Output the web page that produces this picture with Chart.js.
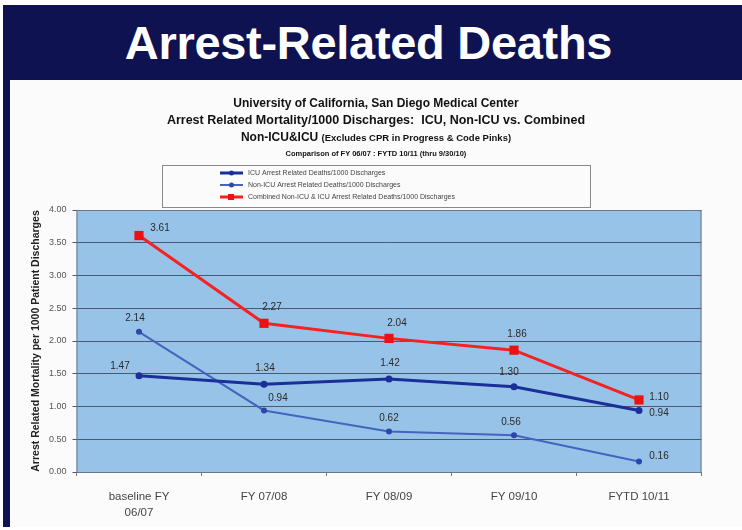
<!DOCTYPE html>
<html>
<head>
<meta charset="utf-8">
<script src="https://cdn.jsdelivr.net/npm/chart.js@4.4.1/dist/chart.umd.min.js"></script>
<style>
  html, body { margin: 0; padding: 0; background: #fff; }
  body { width: 742px; height: 530px; position: relative; overflow: hidden; font-family: "Liberation Sans", Arial, sans-serif; }
  #banner { position: absolute; left: 3px; top: 5px; width: 739px; height: 75px; background: #0f1250; }
  #banner h1 { margin: 0; color: #fff; font-size: 47px; font-weight: bold; text-align: center; line-height: 75px; letter-spacing: -0.3px; padding-right: 8px; }
  #strip { position: absolute; left: 3px; top: 80px; width: 7px; height: 447px; background: #0f1250; }
  #panel { position: absolute; left: 10px; top: 80px; width: 732px; height: 447px; background: #fbfbfb; }
  .t { position: absolute; left: 10px; width: 732px; text-align: center; font-weight: bold; color: #111; white-space: nowrap; }
  #chartBox { position: absolute; left: 10px; top: 80px; width: 732px; height: 447px; }
</style>
</head>
<body>
<div id="banner"><h1>Arrest-Related Deaths</h1></div>
<div id="strip"></div>
<div id="panel"></div>
<div id="chartBox"><canvas id="c"></canvas></div>
<div class="t" style="top:96px;font-size:12px;">University of California, San Diego Medical Center</div>
<div class="t" style="top:113px;font-size:12.5px;">Arrest Related Mortality/1000 Discharges:&nbsp; ICU, Non-ICU vs. Combined</div>
<div class="t" style="top:130px;font-size:12px;">Non-ICU&amp;ICU <span style="font-size:9.5px;">(Excludes CPR in Progress &amp; Code Pinks)</span></div>
<div class="t" style="top:149px;font-size:7.5px;">Comparison of FY 06/07 : FYTD 10/11 (thru 9/30/10)</div>
<script>
// данные
const categories = [['baseline FY', '06/07'], 'FY 07/08', 'FY 08/09', 'FY 09/10', 'FYTD 10/11'];
const icu = [1.47, 1.34, 1.42, 1.30, 0.94];
const nonIcu = [2.14, 0.94, 0.62, 0.56, 0.16];
const combined = [3.61, 2.27, 2.04, 1.86, 1.10];
const seriesNames = [
  'ICU Arrest Related Deaths/1000 Discharges',
  'Non-ICU Arrest Related Deaths/1000 Discharges',
  'Combined Non-ICU & ICU Arrest Related Deaths/1000 Discharges'
];

// смещения подписей значений относительно точек
const labelShift = [
  [[-19,-9],[1,-16],[1,-16],[-5,-15],[20,3]],
  [[-4,-14],[14,-12],[0,-13],[-3,-13],[20,-5]],
  [[21,-7],[8,-16],[8,-15],[3,-16],[20,-3]]
];

const plotBg = {
  id: 'plotBg',
  beforeDraw(chart) {
    const {ctx, chartArea: a} = chart;
    ctx.save();
    ctx.fillStyle = '#97c3e8';
    ctx.fillRect(a.left, a.top, a.right - a.left, a.bottom - a.top);
    ctx.restore();
  },
  afterDraw(chart) {
    const {ctx, chartArea: a} = chart;
    ctx.save();
    ctx.strokeStyle = '#6b7686';
    ctx.lineWidth = 1;
    ctx.strokeRect(a.left + 0.5, a.top + 0.5, a.right - a.left - 1, a.bottom - a.top);
    ctx.restore();
  }
};

const valueLabels = {
  id: 'valueLabels',
  afterDatasetsDraw(chart) {
    const ctx = chart.ctx;
    ctx.save();
    ctx.font = '10px "Liberation Sans", Arial, sans-serif';
    ctx.fillStyle = '#2a2a2a';
    ctx.textAlign = 'center';
    ctx.textBaseline = 'middle';
    chart.data.datasets.forEach((ds, di) => {
      chart.getDatasetMeta(di).data.forEach((pt, i) => {
        const s = labelShift[di][i];
        ctx.fillText(ds.data[i].toFixed(2), pt.x + s[0], pt.y + s[1]);
      });
    });
    ctx.restore();
  }
};

const boxLegend = {
  id: 'boxLegend',
  afterDraw(chart) {
    const ctx = chart.ctx;
    ctx.save();
    ctx.strokeStyle = '#8a8a8a';
    ctx.lineWidth = 1;
    ctx.strokeRect(152.5, 85.5, 428, 42);
    ctx.font = '7px "Liberation Sans", Arial, sans-serif';
    ctx.textBaseline = 'middle';
    ctx.textAlign = 'left';
    chart.data.datasets.forEach((ds, i) => {
      const y = 93 + i * 12;
      ctx.strokeStyle = ds.borderColor;
      ctx.lineWidth = ds.borderWidth;
      ctx.beginPath();
      ctx.moveTo(210, y);
      ctx.lineTo(233, y);
      ctx.stroke();
      ctx.fillStyle = ds.pointBackgroundColor;
      if (ds.pointStyle === 'rect') ctx.fillRect(218, y - 3, 6, 6);
      else { ctx.beginPath(); ctx.arc(221.5, y, 2.5, 0, Math.PI * 2); ctx.fill(); }
      ctx.fillStyle = '#444';
      ctx.fillText(ds.label, 238, y);
    });
    ctx.restore();
  }
};

new Chart(document.getElementById('c'), {
  type: 'line',
  data: {
    labels: categories,
    datasets: [
      {
        label: seriesNames[0], data: icu,
        borderColor: '#1b2f98', backgroundColor: '#1b2f98', pointBackgroundColor: '#1b2f98',
        borderWidth: 3, pointStyle: 'circle', pointRadius: 3.5, pointBorderWidth: 0, tension: 0
      },
      {
        label: seriesNames[1], data: nonIcu,
        borderColor: '#4464be', backgroundColor: '#4464be', pointBackgroundColor: '#2c47a8',
        borderWidth: 2, pointStyle: 'circle', pointRadius: 3, pointBorderWidth: 0, tension: 0
      },
      {
        label: seriesNames[2], data: combined,
        borderColor: '#f52222', backgroundColor: '#f52222', pointBackgroundColor: '#ee1111',
        borderWidth: 3, pointStyle: 'rect', pointRadius: 6.5, pointBorderWidth: 0, tension: 0
      }
    ]
  },
  options: {
    responsive: true,
    maintainAspectRatio: false,
    animation: false,
    layout: { padding: { top: 130, right: 40.5, left: 0, bottom: 0 } },
    plugins: { legend: { display: false }, tooltip: { enabled: false } },
    scales: {
      x: {
        offset: true,
        afterFit: s => { s.height = 55; },
        grid: { offset: true, drawOnChartArea: false, drawTicks: true, tickLength: 4, color: '#777' },
        border: { display: false },
        ticks: { padding: 12, color: '#444', font: { size: 11.5, lineHeight: 1.45, family: '"Liberation Sans", Arial, sans-serif' }, maxRotation: 0 }
      },
      y: {
        min: 0, max: 4,
        afterFit: s => { s.width = 66.5; },
        grid: { color: '#4c5870', lineWidth: 1, tickLength: 4 },
        border: { display: false },
        ticks: {
          stepSize: 0.5, padding: 6, color: '#555',
          font: { size: 9, family: '"Liberation Sans", Arial, sans-serif' },
          callback: v => v.toFixed(2)
        },
        title: {
          display: true, text: 'Arrest Related Mortality per 1000 Patient Discharges',
          color: '#222', padding: { top: 20, bottom: 0 },
          font: { size: 10.5, weight: 'bold', family: '"Liberation Sans", Arial, sans-serif' }
        }
      }
    }
  },
  plugins: [plotBg, valueLabels, boxLegend]
});
</script>
</body>
</html>
